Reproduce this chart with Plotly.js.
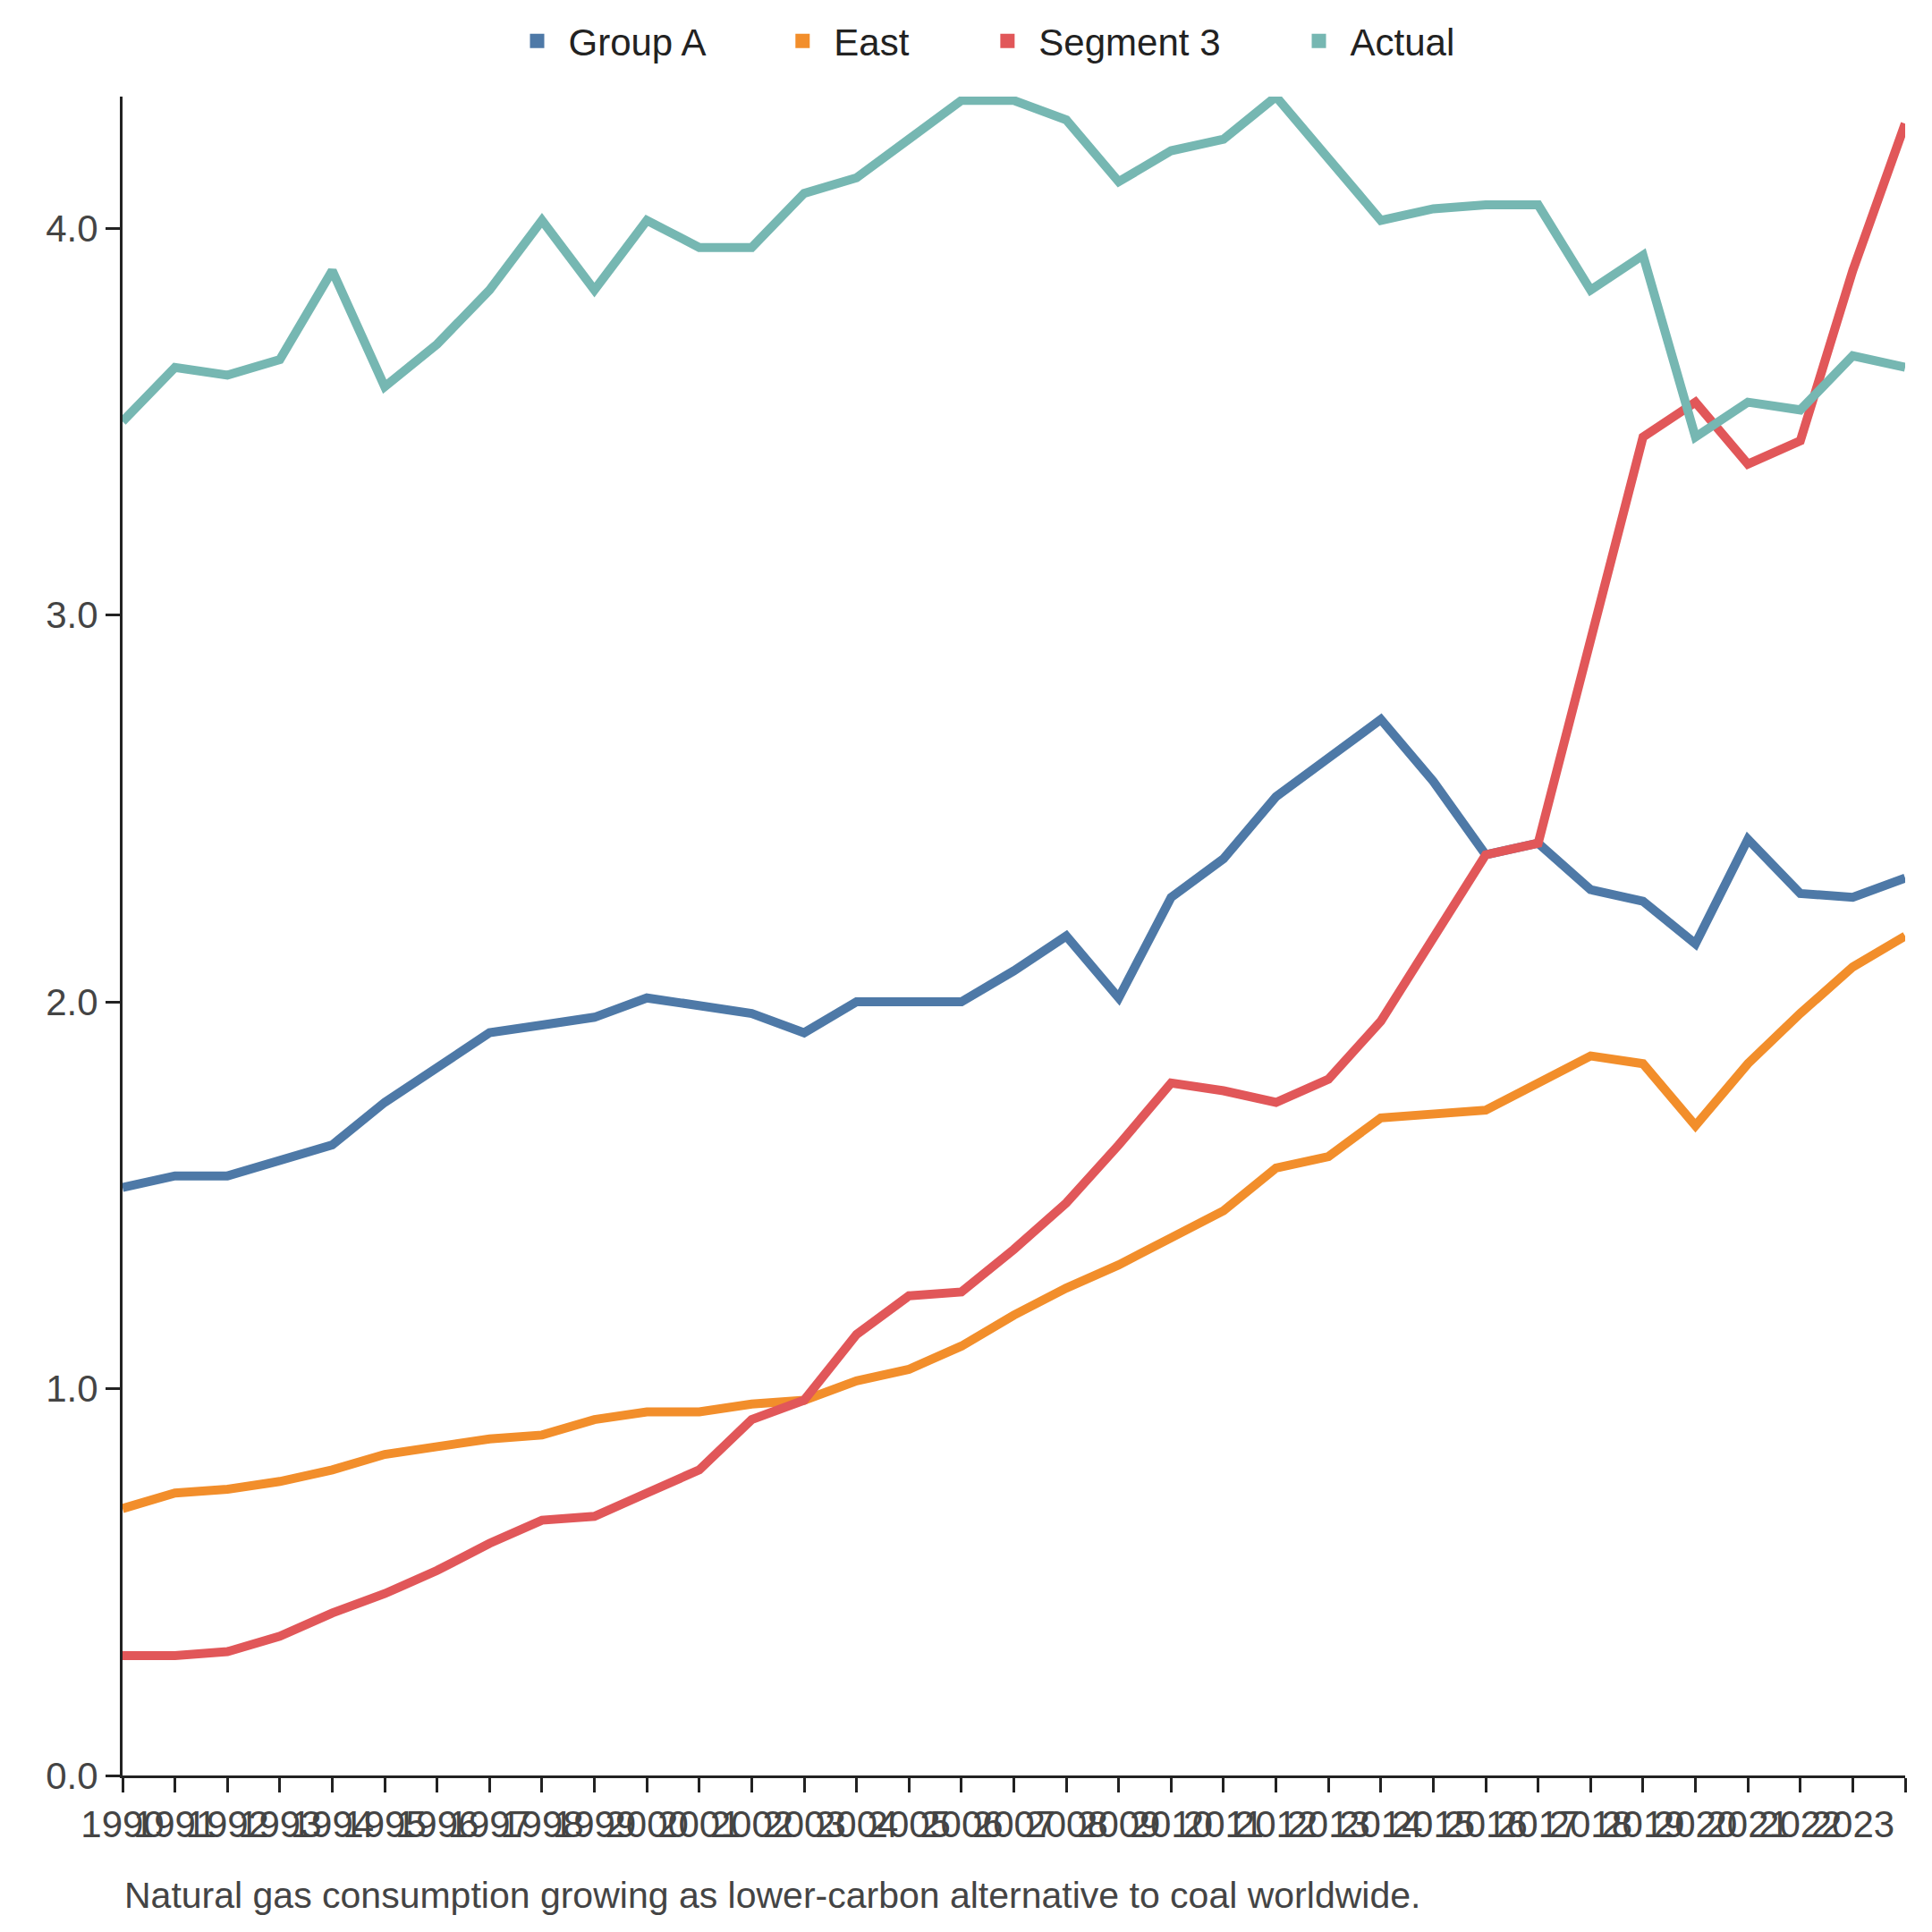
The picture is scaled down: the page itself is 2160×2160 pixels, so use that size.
<!DOCTYPE html>
<html><head><meta charset="utf-8">
<script src="https://cdn.plot.ly/plotly-3.0.1.min.js"></script>
<style>html,body{margin:0;padding:0;background:#fff}#chart{width:2160px;height:2160px}</style>
</head><body><div id="chart"></div>
<script>
const years = [];
for (let y = 1990; y <= 2024; y++) years.push(y);

const groupA = [1.52,1.55,1.55,1.59,1.63,1.74,1.83,1.92,1.94,1.96,2.01,1.99,1.97,1.92,2.00,2.00,2.00,2.08,2.17,2.01,2.27,2.37,2.53,2.63,2.73,2.57,2.38,2.41,2.29,2.26,2.15,2.42,2.28,2.27,2.32];
const east = [0.69,0.73,0.74,0.76,0.79,0.83,0.85,0.87,0.88,0.92,0.94,0.94,0.96,0.97,1.02,1.05,1.11,1.19,1.26,1.32,1.39,1.46,1.57,1.60,1.70,1.71,1.72,1.79,1.86,1.84,1.68,1.84,1.97,2.09,2.17];
const segment3 = [0.31,0.31,0.32,0.36,0.42,0.47,0.53,0.60,0.66,0.67,0.73,0.79,0.92,0.97,1.14,1.24,1.25,1.36,1.48,1.63,1.79,1.77,1.74,1.80,1.95,2.16,2.38,2.41,2.94,3.46,3.55,3.39,3.45,3.89,4.27];
const actual = [3.50,3.64,3.62,3.66,3.89,3.59,3.70,3.84,4.02,3.84,4.02,3.95,3.95,4.09,4.13,4.23,4.33,4.33,4.28,4.12,4.20,4.23,4.34,4.18,4.02,4.05,4.06,4.06,3.84,3.93,3.46,3.55,3.53,3.67,3.64];

const seriesNames = ['Group A', 'East', 'Segment 3', 'Actual'];
const seriesData = [groupA, east, segment3, actual];
const colors = ['#4e79a7', '#f28e2b', '#e15759', '#76b7b2'];

const traces = [];
seriesData.forEach((d, i) => {
  traces.push({ x: years, y: d, type: 'scatter', mode: 'lines', name: seriesNames[i],
    line: { color: colors[i], width: 10 }, showlegend: false, cliponaxis: false, hoverinfo: 'x+y' });
});
// legend-only square markers
seriesNames.forEach((n, i) => {
  traces.push({ x: [null], y: [null], type: 'scatter', mode: 'markers', name: n + '      ',
    marker: { symbol: 'square', size: 34, color: colors[i] } });
});

const axisFont = { family: 'Liberation Sans, Arial, sans-serif', size: 42, color: '#444' };
const layout = {
  width: 2160, height: 2160,
  paper_bgcolor: '#fff', plot_bgcolor: '#fff',
  font: { family: 'Liberation Sans, Arial, sans-serif', size: 42, color: '#222' },
  margin: { l: 137, r: 30, t: 101, b: 175 },
  showlegend: true,
  legend: { orientation: 'h', x: 0.5, xanchor: 'center', y: 1.033, yanchor: 'middle',
    font: { size: 42, color: '#222' }, itemwidth: 60 },
  xaxis: {
    range: [1990, 2024], tickmode: 'array', tickvals: years, ticktext: years.map(String),
    tickangle: 0, showgrid: false, zeroline: false, showline: true, linecolor: '#222', linewidth: 3,
    ticks: 'outside', ticklen: 16, tickwidth: 3, tickcolor: '#222', tickfont: axisFont
  },
  yaxis: {
    range: [0, 4.34], tickvals: [0, 1, 2, 3, 4], ticktext: ['0.0', '1.0', '2.0', '3.0', '4.0'],
    showgrid: false, zeroline: false, showline: true, linecolor: '#222', linewidth: 3,
    ticks: 'outside', ticklen: 16, tickwidth: 3, tickcolor: '#222', tickfont: axisFont
  },
  annotations: [{
    text: 'Natural gas consumption growing as lower-carbon alternative to coal worldwide.',
    xref: 'paper', yref: 'paper', x: 0, y: -0.058, xanchor: 'left', yanchor: 'top',
    showarrow: false, font: { size: 41, color: '#444' }
  }]
};

Plotly.newPlot('chart', traces, layout, { displayModeBar: false });
</script>
</body></html>
